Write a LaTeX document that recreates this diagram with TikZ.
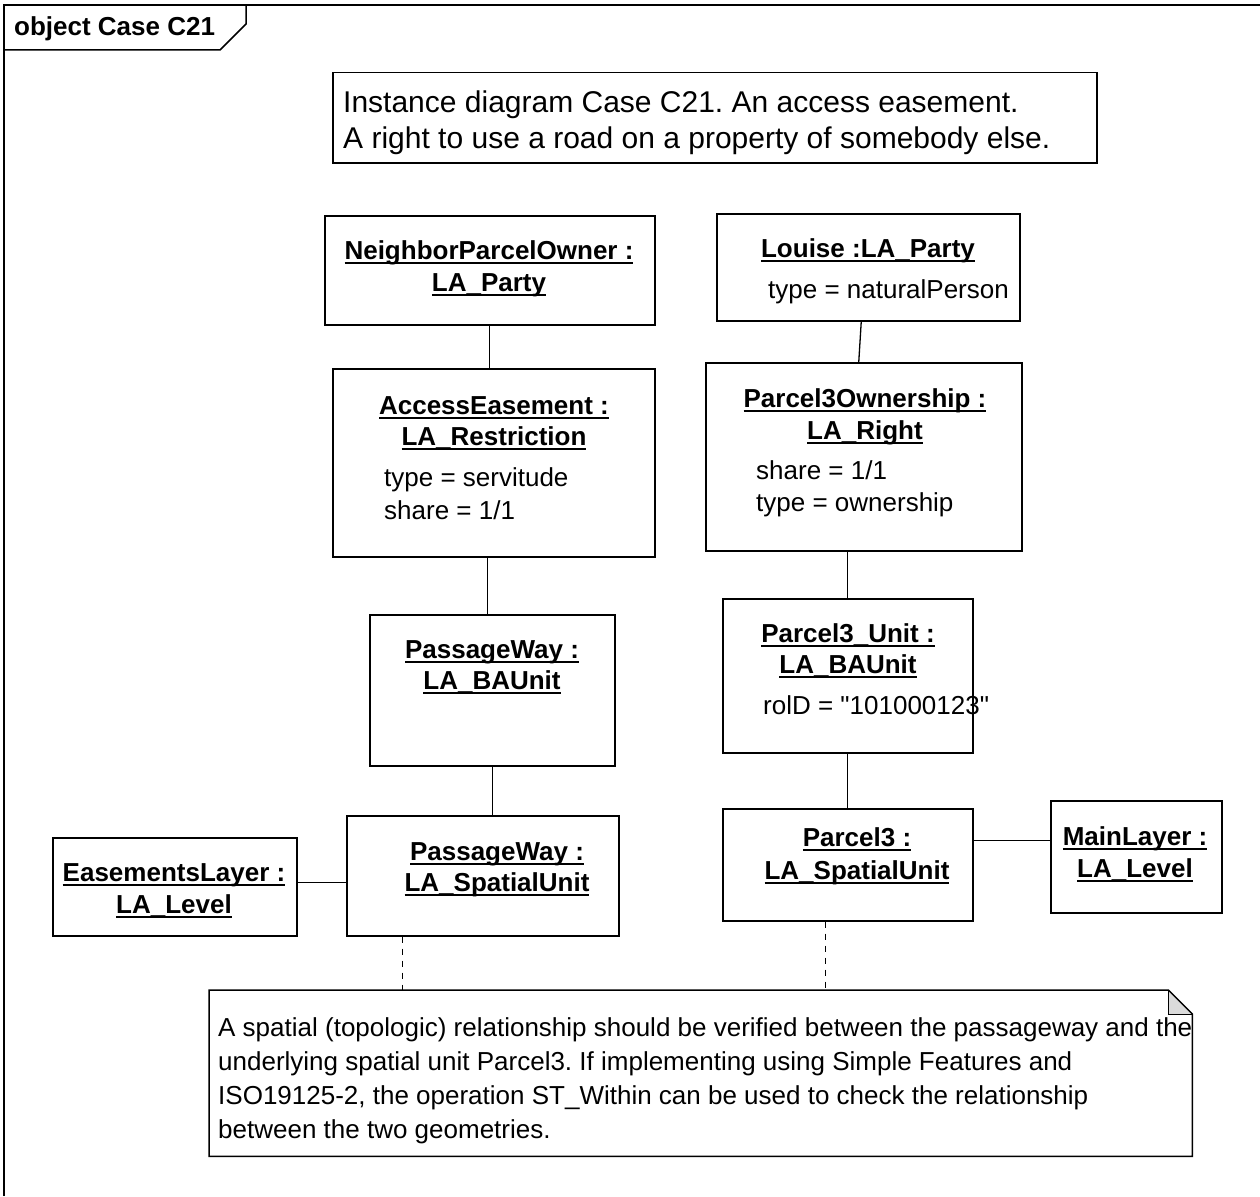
\documentclass[tikz,border=0pt]{standalone}
\usepackage{fontspec}
\setmainfont{Liberation Sans}[Ligatures=TeXOff]
\newcommand\ulx[1]{\setbox0\hbox{#1}\rlap{\rule[-4.5pt]{\wd0}{1.6pt}}\box0}
\frenchspacing
\begin{document}
\begin{tikzpicture}[x=1pt,y=-1pt,
  objbox/.style={draw, line width=1.5pt, inner sep=0pt, anchor=north west},
  lbl/.style={inner sep=0pt, anchor=base, font=\fontsize{26}{31}\selectfont\bfseries},
  attr/.style={inner sep=0pt, anchor=base west, font=\fontsize{26}{31}\selectfont},
  conn/.style={line width=1.3pt},
  dep/.style={line width=1.3pt, dash pattern=on 6pt off 6pt}]
\useasboundingbox (0,0) rectangle (1260,1196);
% frame
\draw[line width=1.5pt] (4,1196) -- (4,5) -- (1260,5);
\draw[line width=1.5pt] (4,50) -- (220,50) -- (246,24) -- (246,5);
\node[lbl, anchor=base west] (ftitle) at (14,36) {object Case C21};
% title note
\node[objbox, minimum width=764, minimum height=90] (tn) at (332,72) {};
\node[attr, font=\fontsize{30}{36}\selectfont] (tn1) at (343,113) {Instance diagram Case C21. An access easement.};
\node[attr, font=\fontsize{30}{36}\selectfont] (tn2) at (343,149) {A right to use a road on a property of somebody else.};
% boxes
\node[objbox, minimum width=330, minimum height=109] (np) at (324,215) {};
\node[lbl] (np1) at (489,259) {\ulx{NeighborParcelOwner :}};
\node[lbl] (np2) at (489,291) {\ulx{LA\_Party}};

\node[objbox, minimum width=303, minimum height=107] (lo) at (716,213) {};
\node[lbl] (lo1) at (868,257) {\ulx{Louise :LA\_Party}};
\node[attr] (lo2) at (768,298) {type = naturalPerson};

\node[objbox, minimum width=322, minimum height=188] (ae) at (332,368) {};
\node[lbl] (ae1) at (494,414) {\ulx{AccessEasement :}};
\node[lbl] (ae2) at (494,445) {\ulx{LA\_Restriction}};
\node[attr] (ae3) at (384,486) {type = servitude};
\node[attr] (ae4) at (384,519) {share = 1/1};

\node[objbox, minimum width=316, minimum height=188] (po) at (705,362) {};
\node[lbl] (po1) at (865,407) {\ulx{Parcel3Ownership :}};
\node[lbl] (po2) at (865,439) {\ulx{LA\_Right}};
\node[attr] (po3) at (756,479) {share = 1/1};
\node[attr] (po4) at (756,511) {type = ownership};

\node[objbox, minimum width=245, minimum height=151] (pb) at (369,614) {};
\node[lbl] (pb1) at (492,658) {\ulx{PassageWay :}};
\node[lbl] (pb2) at (492,689) {\ulx{LA\_BAUnit}};

\node[objbox, minimum width=250, minimum height=154] (pu) at (722,598) {};
\node[lbl] (pu1) at (848,642) {\ulx{Parcel3\_Unit :}};
\node[lbl] (pu2) at (848,673) {\ulx{LA\_BAUnit}};
\node[attr] (pu3) at (763,714) {rolD = "101000123"};

\node[objbox, minimum width=272, minimum height=120] (ps) at (346,815) {};
\node[lbl] (ps1) at (497,860) {\ulx{PassageWay :}};
\node[lbl] (ps2) at (497,891) {\ulx{LA\_SpatialUnit}};

\node[objbox, minimum width=250, minimum height=112] (p3) at (722,808) {};
\node[lbl] (p31) at (857,846) {\ulx{Parcel3 :}};
\node[lbl] (p32) at (857,879) {\ulx{LA\_SpatialUnit}};

\node[objbox, minimum width=244, minimum height=98] (el) at (52,837) {};
\node[lbl] (el1) at (174,881) {\ulx{EasementsLayer :}};
\node[lbl] (el2) at (174,913) {\ulx{LA\_Level}};

\node[objbox, minimum width=171, minimum height=112] (ml) at (1050,800) {};
\node[lbl] (ml1) at (1135,845) {\ulx{MainLayer :}};
\node[lbl] (ml2) at (1135,877) {\ulx{LA\_Level}};

% bottom note
\node[inner sep=0pt, anchor=north west, minimum width=983, minimum height=166] (nt) at (209,990) {};
\fill[black!14] ([xshift=-24]nt.north east) -- ([xshift=-24,yshift=-24]nt.north east) -- ([yshift=-24]nt.north east) -- cycle;
\draw[line width=1.5pt, line join=miter] (nt.north west) -- ([xshift=-24]nt.north east) -- ([yshift=-24]nt.north east) -- (nt.south east) -- (nt.south west) -- cycle;
\draw[line width=1pt] ([xshift=-24]nt.north east) -- ([xshift=-24,yshift=-24]nt.north east) -- ([yshift=-24]nt.north east);
\node[attr] (nt1) at (218,1036) {A spatial (topologic) relationship should be verified between the passageway and the};
\node[attr] (nt2) at (218,1070) {underlying spatial unit Parcel3. If implementing using Simple Features and};
\node[attr] (nt3) at (218,1104) {ISO19125-2, the operation ST\_Within can be used to check the relationship};
\node[attr] (nt4) at (218,1138) {between the two geometries.};

% connectors
\draw[conn] (np.south) -- (np.south |- ae.north);
\draw[conn] ([xshift=-7]lo.south) -- ([xshift=-5]po.north);
\draw[conn] ([xshift=-6]ae.south) -- ([xshift=-6]ae.south |- pb.north);
\draw[conn] (pu.north) -- (pu.north |- po.south);
\draw[conn] (pb.south) -- (pb.south |- ps.north);
\draw[conn] (pu.south) -- (pu.south |- p3.north);
\draw[conn] ([yshift=4]el.east) -- ([yshift=4]el.east -| ps.west);
\draw[conn] ([yshift=16]ml.west) -- ([yshift=16]ml.west -| p3.east);
\draw[dep] ([xshift=-80]ps.south) -- ([xshift=-80]ps.south |- nt.north);
\draw[dep] ([xshift=-22]p3.south) -- ([xshift=-22]p3.south |- nt.north);
\end{tikzpicture}
\end{document}
